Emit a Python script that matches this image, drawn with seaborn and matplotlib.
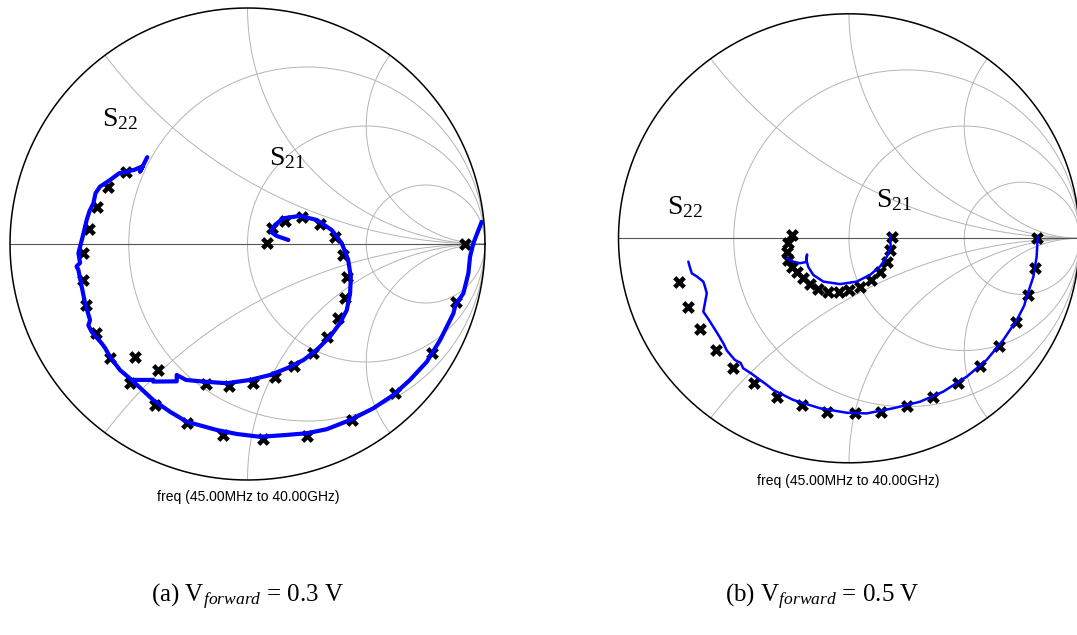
import numpy as np
import matplotlib
matplotlib.use("Agg")
import matplotlib.pyplot as plt
import seaborn as sns

sns.set_style("white")
plt.rcParams["font.family"] = ["Liberation Serif", "DejaVu Serif"]
plt.rcParams["text.color"] = "black"
plt.rcParams["mathtext.fontset"] = "custom"
plt.rcParams["mathtext.rm"] = "Liberation Serif"
plt.rcParams["mathtext.it"] = "Liberation Serif:italic"

# ---------------- (a) V_forward = 0.3 V : reflection coefficients (Re, Im) ----------------
a_s22_sim_re = [-0.422, -0.453, -0.440, -0.475, -0.509, -0.540, -0.579, -0.621, -0.640, -0.649,
                -0.665, -0.677, -0.694, -0.712, -0.705, -0.720, -0.712, -0.698, -0.684, -0.663,
                -0.670, -0.656, -0.614, -0.600, -0.579, -0.537, -0.488, -0.397, -0.326, -0.256,
                -0.130, -0.045, 0.053, 0.165, 0.249, 0.333, 0.432, 0.530, 0.614, 0.684,
                0.755, 0.811, 0.867, 0.875, 0.909, 0.930, 0.937, 0.951, 0.986]
a_s22_sim_im = [0.368, 0.306, 0.330, 0.315, 0.306, 0.300, 0.271, 0.243, 0.215, 0.172,
                0.140, 0.102, 0.031, -0.039, -0.080, -0.095, -0.110, -0.181, -0.251, -0.322,
                -0.345, -0.372, -0.421, -0.440, -0.478, -0.534, -0.576, -0.661, -0.711, -0.753,
                -0.788, -0.805, -0.817, -0.809, -0.802, -0.785, -0.746, -0.696, -0.640, -0.576,
                -0.499, -0.407, -0.294, -0.260, -0.209, -0.124, -0.054, 0.003, 0.094]
a_s22_meas_re = [-0.512, -0.586, -0.635, -0.666, -0.691, -0.691, -0.680, -0.638, -0.579, -0.495,
                 -0.389, -0.256, -0.104, 0.067, 0.252, 0.441, 0.621, 0.778, 0.878, 0.917]
a_s22_meas_im = [0.306, 0.243, 0.158, 0.062, -0.039, -0.153, -0.258, -0.376, -0.484, -0.590,
                 -0.682, -0.760, -0.809, -0.826, -0.814, -0.746, -0.630, -0.461, -0.244, 0.000]

a_s21_sim_re = [0.172, 0.123, 0.098, 0.116, 0.151, 0.221, 0.291, 0.355, 0.397, 0.424,
                0.435, 0.432, 0.418, 0.389, 0.347, 0.291, 0.235, 0.165, 0.095, 0.011,
                -0.088, -0.186, -0.259, -0.298, -0.298, -0.397, -0.397, -0.488]
a_s21_sim_im = [0.017, 0.034, 0.052, 0.081, 0.109, 0.119, 0.102, 0.059, 0.003, -0.068,
                -0.139, -0.209, -0.280, -0.336, -0.393, -0.449, -0.492, -0.527, -0.555, -0.576,
                -0.590, -0.583, -0.576, -0.555, -0.582, -0.583, -0.576, -0.576]
a_s21_meas_re = [0.083, 0.102, 0.158, 0.228, 0.305, 0.368, 0.403, 0.418, 0.411, 0.382,
                 0.336, 0.275, 0.197, 0.116, 0.024, -0.077, -0.175, -0.376, -0.474]
a_s21_meas_im = [0.003, 0.067, 0.099, 0.113, 0.085, 0.031, -0.047, -0.139, -0.230, -0.315,
                 -0.393, -0.463, -0.516, -0.562, -0.588, -0.602, -0.594, -0.534, -0.478]

# ---------------- (b) V_forward = 0.5 V ----------------
b_s22_sim_re = [-0.697, -0.690, -0.682, -0.660, -0.632, -0.625, -0.617, -0.632, -0.610, -0.589,
                -0.570, -0.545, -0.530, -0.495, -0.470, -0.459, -0.420, -0.386, -0.360, -0.328,
                -0.242, -0.126, -0.010, 0.077, 0.192, 0.308, 0.409, 0.511, 0.597, 0.669,
                0.728, 0.760, 0.771, 0.800, 0.814, 0.819]
b_s22_sim_im = [-0.104, -0.130, -0.156, -0.170, -0.193, -0.215, -0.245, -0.327, -0.360, -0.394,
                -0.425, -0.468, -0.500, -0.542, -0.555, -0.579, -0.605, -0.631, -0.650, -0.676,
                -0.720, -0.757, -0.777, -0.780, -0.757, -0.728, -0.683, -0.616, -0.542, -0.453,
                -0.364, -0.300, -0.260, -0.171, -0.082, 0.007]
b_s22_meas_re = [-0.736, -0.697, -0.646, -0.577, -0.502, -0.411, -0.314, -0.205, -0.094, 0.026,
                 0.138, 0.253, 0.366, 0.474, 0.568, 0.652, 0.725, 0.775, 0.807, 0.814]
b_s22_meas_im = [-0.193, -0.305, -0.404, -0.498, -0.579, -0.646, -0.706, -0.743, -0.772, -0.780,
                 -0.772, -0.747, -0.708, -0.646, -0.569, -0.478, -0.371, -0.253, -0.134, 0.000]

b_s21_sim_re = [0.178, 0.181, 0.164, 0.134, 0.091, 0.033, -0.039, -0.111, -0.155, -0.177,
                -0.184, -0.182, -0.187, -0.213, -0.242, -0.270]
b_s21_sim_im = [0.015, -0.037, -0.082, -0.127, -0.163, -0.193, -0.204, -0.193, -0.163, -0.127,
                -0.100, -0.072, -0.106, -0.111, -0.104, -0.089]
b_s21_meas_re = [0.185, 0.178, 0.164, 0.134, 0.094, 0.048, 0.001, -0.045, -0.090, -0.133,
                 -0.169, -0.201, -0.227, -0.249, -0.263, -0.268, -0.263, -0.249]
b_s21_meas_im = [0.007, -0.052, -0.104, -0.149, -0.186, -0.216, -0.230, -0.238, -0.238, -0.227,
                 -0.205, -0.178, -0.149, -0.127, -0.097, -0.060, -0.022, 0.015]

RESISTANCES = [1 / 3, 1.0, 3.0]
REACTANCES = [0.5, 1.0, 2.0, -0.5, -1.0, -2.0]

GRID_COLOR = "#b4b4b4"


def draw_smith_grid(ax):
    t = np.linspace(0, 2 * np.pi, 720)
    for r in RESISTANCES:
        c, rad = r / (1 + r), 1 / (1 + r)
        ax.plot(c + rad * np.cos(t), rad * np.sin(t), color=GRID_COLOR, lw=0.7, zorder=1)
    rr = np.concatenate([[0.0], np.logspace(-3, 4, 800)])
    for x in REACTANCES:
        z = rr + 1j * x
        g = (z - 1) / (z + 1)
        ax.plot(g.real, g.imag, color=GRID_COLOR, lw=0.7, zorder=1)
    ax.plot([-1, 1], [0, 0], color="#555555", lw=0.8, zorder=1.5)
    ax.plot(np.cos(t), np.sin(t), color="black", lw=1.1, zorder=2, clip_on=False)


def draw_panel(ax, series, lw, ms):
    draw_smith_grid(ax)
    for sim_re, sim_im, meas_re, meas_im in series:
        sns.scatterplot(x=meas_re, y=meas_im, ax=ax, marker="X", color="black",
                        s=ms, linewidth=0, zorder=3, legend=False)
        sns.lineplot(x=sim_re, y=sim_im, ax=ax, sort=False, estimator=None,
                     color="#0000ff", lw=lw, zorder=4, legend=False,
                     solid_joinstyle="round", solid_capstyle="round")
    ax.set_xlim(-1, 1)
    ax.set_ylim(-1, 1)
    ax.set_aspect("auto")
    ax.set_xlabel("")
    ax.set_ylabel("")
    ax.axis("off")


W, H = 1077, 635
fig = plt.figure(figsize=(W / 100, H / 100), dpi=100)

ax_a = fig.add_axes([10 / W, (H - 480) / H, 475 / W, 472 / H])
ax_b = fig.add_axes([618.5 / W, (H - 462.8) / H, 461 / W, 449 / H])

draw_panel(ax_a, [(a_s22_sim_re, a_s22_sim_im, a_s22_meas_re, a_s22_meas_im),
                  (a_s21_sim_re, a_s21_sim_im, a_s21_meas_re, a_s21_meas_im)], lw=3.0, ms=85)
draw_panel(ax_b, [(b_s22_sim_re, b_s22_sim_im, b_s22_meas_re, b_s22_meas_im),
                  (b_s21_sim_re, b_s21_sim_im, b_s21_meas_re, b_s21_meas_im)], lw=1.8, ms=85)

label_kw = dict(fontsize=20, ha="center", va="center", zorder=5)
ax_a.text(-0.537, 0.530, r"S$_{22}$", **label_kw)
ax_a.text(0.166, 0.362, r"S$_{21}$", **label_kw)
ax_b.text(-0.711, 0.138, r"S$_{22}$", **label_kw)
ax_b.text(0.195, 0.170, r"S$_{21}$", **label_kw)

freq_kw = dict(fontsize=10, ha="center", va="center", family=["Liberation Sans", "DejaVu Sans"])
fig.text(248 / W, 1 - 497 / H, "freq (45.00MHz to 40.00GHz)", **freq_kw)
fig.text(848 / W, 1 - 481 / H, "freq (45.00MHz to 40.00GHz)", **freq_kw)

cap_kw = dict(fontsize=18, ha="center", va="center")
fig.text(248 / W, 1 - 597 / H, r"(a) V$_{\mathit{forward}}$ = 0.3 V", **cap_kw)
fig.text(822 / W, 1 - 597 / H, r"(b) V$_{\mathit{forward}}$ = 0.5 V", **cap_kw)

fig.savefig("out.png", dpi=100, facecolor="white")
